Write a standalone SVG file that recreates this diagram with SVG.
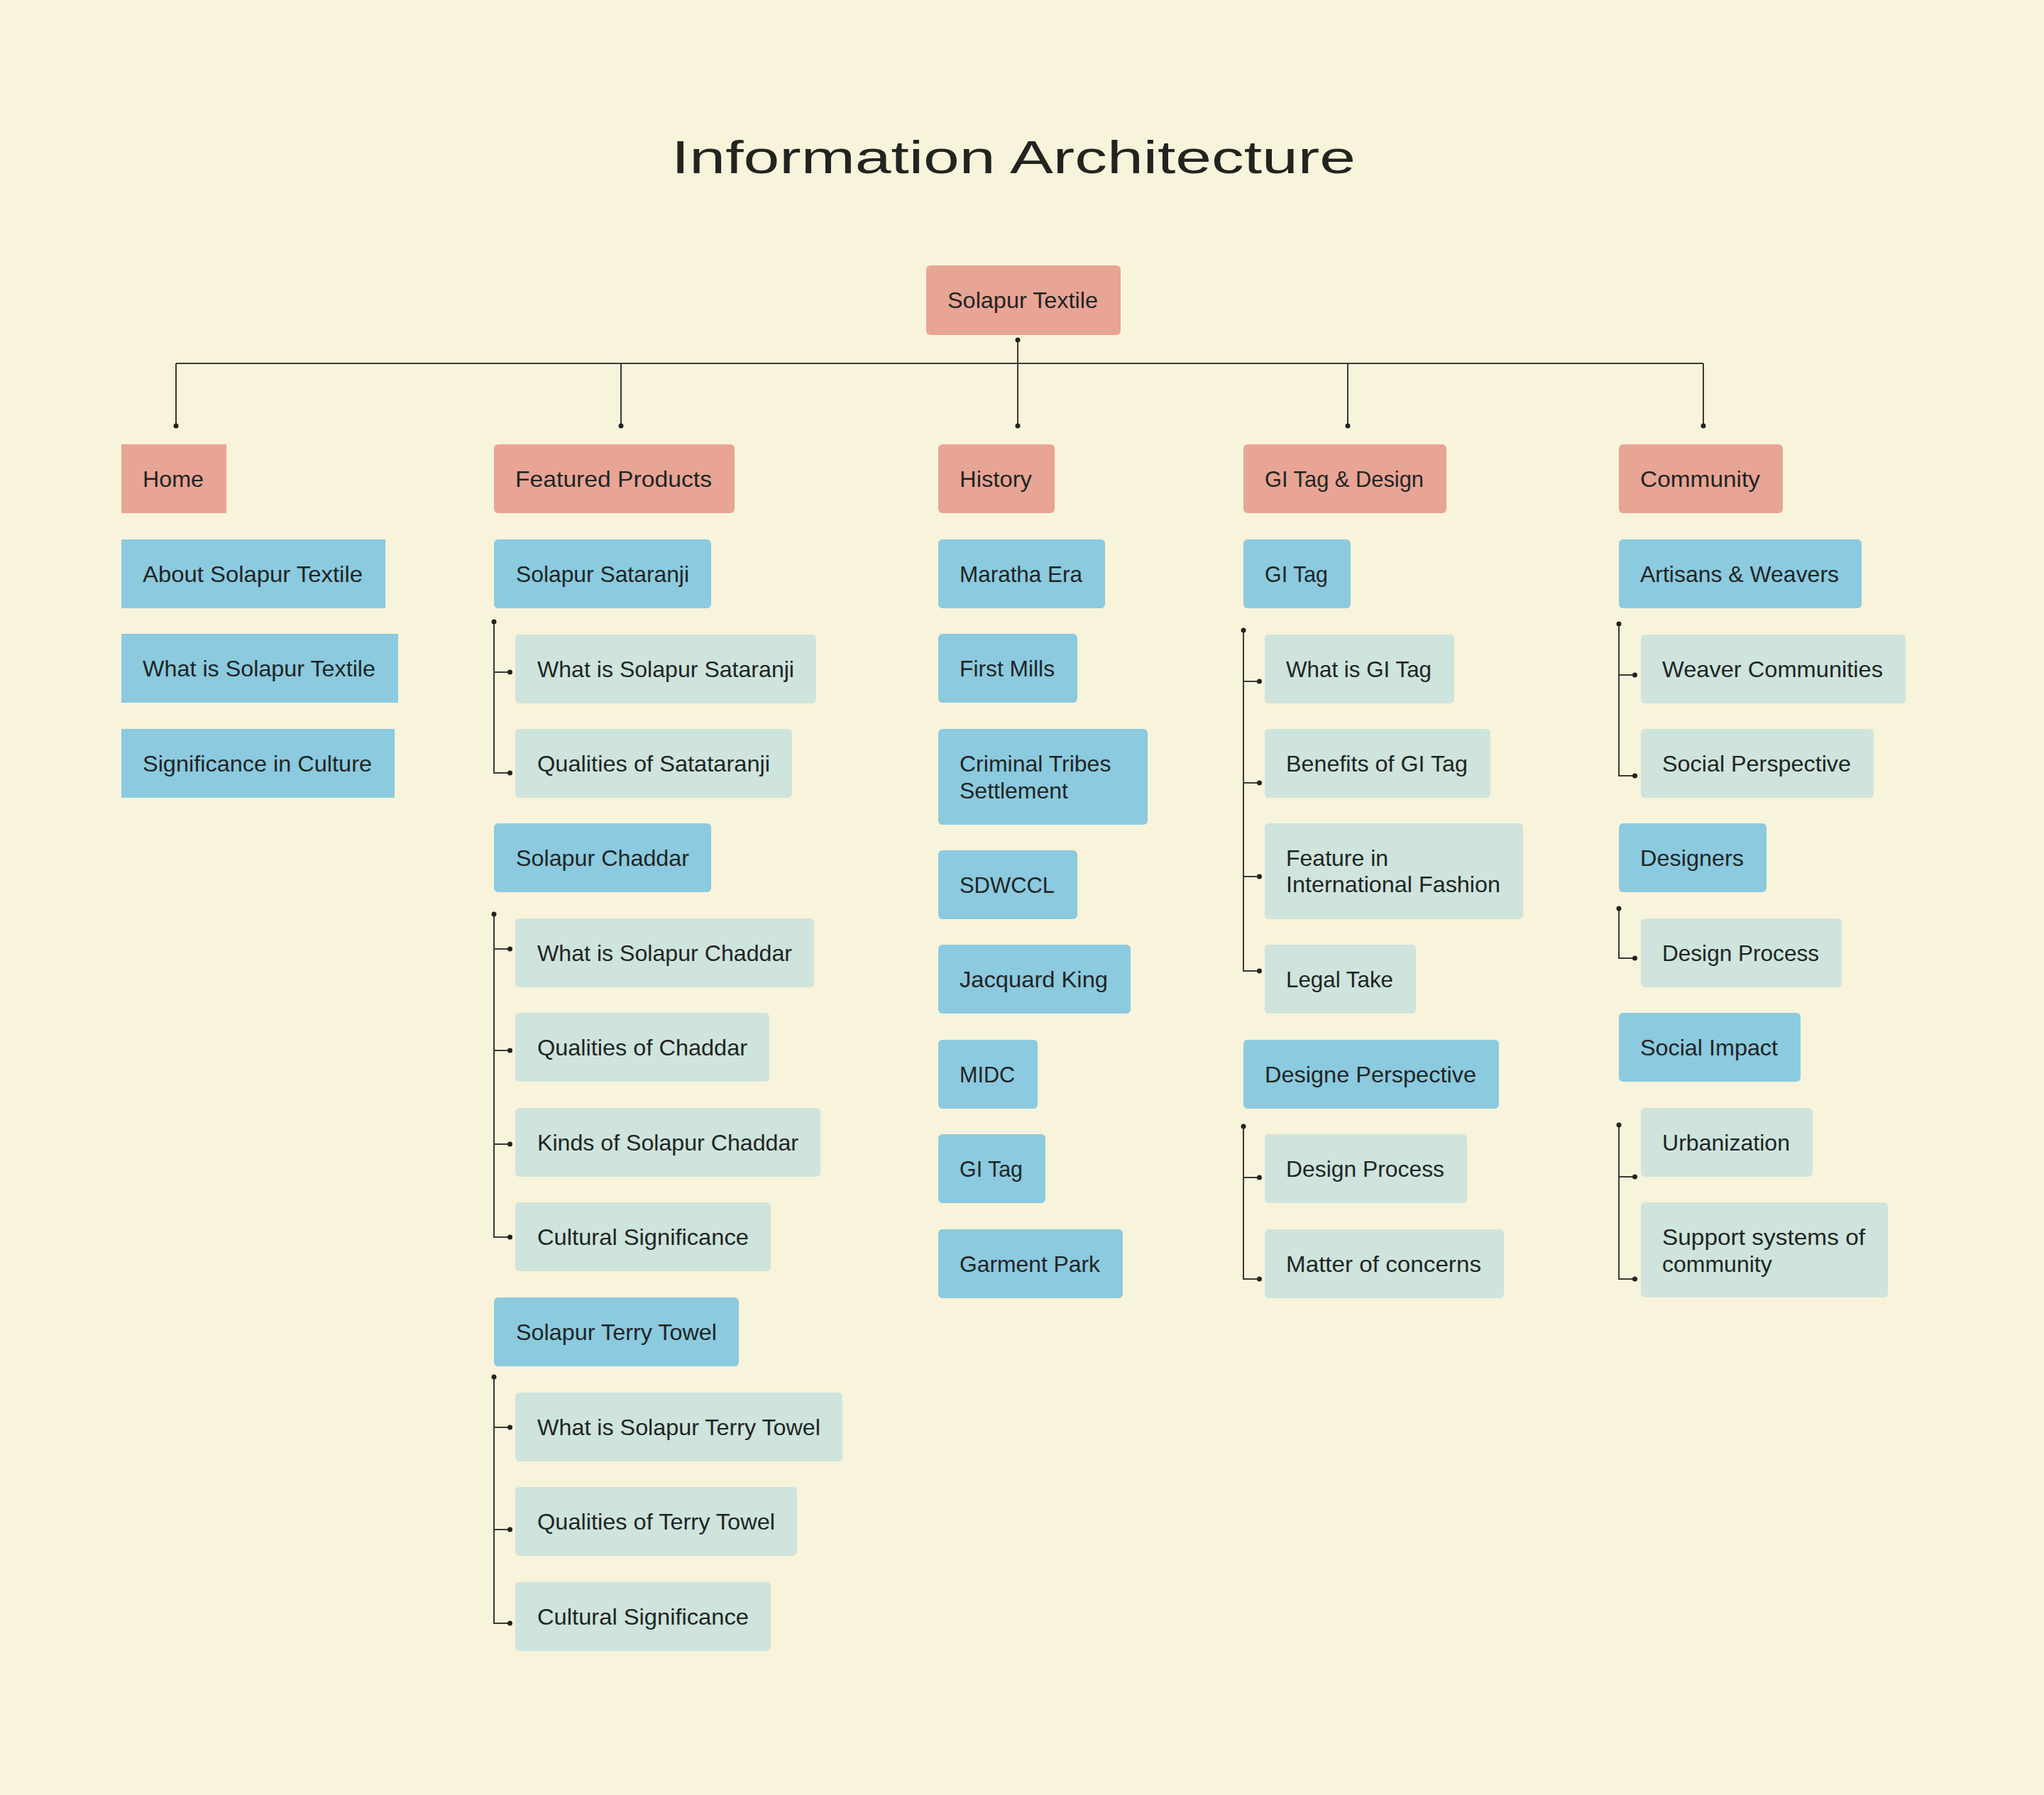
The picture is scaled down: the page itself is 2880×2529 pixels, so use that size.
<svg xmlns="http://www.w3.org/2000/svg" width="2880" height="2529" viewBox="0 0 2880 2529">
<defs>
<style>
.bg{fill:#F8F3DB}
.n1{fill:#E8A494}
.n2{fill:#8BCADF}
.n3{fill:#CEE4DC}
.t{font-family:"Liberation Sans",Arial,sans-serif;font-size:32px;fill:#1F2524}
.title{font-family:"Liberation Sans",Arial,sans-serif;font-size:64px;fill:#23231F}
.ln{fill:none;stroke:#3A3A35;stroke-width:2}
.dot{fill:#23231F}
</style>
</defs>
<rect class="bg" x="0" y="0" width="2880" height="2529"/>
<text class="title" x="1428" y="244" text-anchor="middle" textLength="964" lengthAdjust="spacingAndGlyphs">Information Architecture</text>

<g id="connectors">
<path class="ln" d="M1434,479 V512 M248,512 H2400 M248,512 V600 M875,512 V600 M1434,512 V600 M1899,512 V600 M2400,512 V600"/>
<circle class="dot" cx="1434" cy="479" r="3.5"/>
<circle class="dot" cx="248" cy="600" r="3.5"/>
<circle class="dot" cx="875" cy="600" r="3.5"/>
<circle class="dot" cx="1434" cy="600" r="3.5"/>
<circle class="dot" cx="1899" cy="600" r="3.5"/>
<circle class="dot" cx="2400" cy="600" r="3.5"/>

<path class="ln" d="M696,876 V1089 H718.5 M696,947 H718.5"/>
<circle class="dot" cx="696" cy="876" r="3.5"/>
<circle class="dot" cx="718.5" cy="947" r="3.5"/>
<circle class="dot" cx="718.5" cy="1089" r="3.5"/>

<path class="ln" d="M696,1288 V1743 H718.5 M696,1337 H718.5 M696,1480 H718.5 M696,1612 H718.5"/>
<circle class="dot" cx="696" cy="1288" r="3.5"/>
<circle class="dot" cx="718.5" cy="1337" r="3.5"/>
<circle class="dot" cx="718.5" cy="1480" r="3.5"/>
<circle class="dot" cx="718.5" cy="1612" r="3.5"/>
<circle class="dot" cx="718.5" cy="1743" r="3.5"/>

<path class="ln" d="M696,1940 V2287 H718.5 M696,2011 H718.5 M696,2155 H718.5"/>
<circle class="dot" cx="696" cy="1940" r="3.5"/>
<circle class="dot" cx="718.5" cy="2011" r="3.5"/>
<circle class="dot" cx="718.5" cy="2155" r="3.5"/>
<circle class="dot" cx="718.5" cy="2287" r="3.5"/>

<path class="ln" d="M1752,888 V1368 H1774.5 M1752,960 H1774.5 M1752,1103 H1774.5 M1752,1235 H1774.5"/>
<circle class="dot" cx="1752" cy="888" r="3.5"/>
<circle class="dot" cx="1774.5" cy="960" r="3.5"/>
<circle class="dot" cx="1774.5" cy="1103" r="3.5"/>
<circle class="dot" cx="1774.5" cy="1235" r="3.5"/>
<circle class="dot" cx="1774.5" cy="1368" r="3.5"/>

<path class="ln" d="M1752,1587 V1802 H1774.5 M1752,1659 H1774.5"/>
<circle class="dot" cx="1752" cy="1587" r="3.5"/>
<circle class="dot" cx="1774.5" cy="1659" r="3.5"/>
<circle class="dot" cx="1774.5" cy="1802" r="3.5"/>

<path class="ln" d="M2281,879 V1093 H2303.5 M2281,951 H2303.5"/>
<circle class="dot" cx="2281" cy="879" r="3.5"/>
<circle class="dot" cx="2303.5" cy="951" r="3.5"/>
<circle class="dot" cx="2303.5" cy="1093" r="3.5"/>

<path class="ln" d="M2281,1280 V1350 H2303.5"/>
<circle class="dot" cx="2281" cy="1280" r="3.5"/>
<circle class="dot" cx="2303.5" cy="1350" r="3.5"/>

<path class="ln" d="M2281,1585 V1802 H2303.5 M2281,1658 H2303.5"/>
<circle class="dot" cx="2281" cy="1585" r="3.5"/>
<circle class="dot" cx="2303.5" cy="1658" r="3.5"/>
<circle class="dot" cx="2303.5" cy="1802" r="3.5"/>
</g>

<g id="root"><rect class="n1" x="1305" y="374" width="274" height="98" rx="6"/><text class="t" x="1335" y="434" textLength="212" lengthAdjust="spacingAndGlyphs">Solapur Textile</text></g>

<g id="home"><rect class="n1" x="171" y="626" width="148" height="97"/><text class="t" x="201" y="686" textLength="86" lengthAdjust="spacingAndGlyphs">Home</text></g>
<g id="about"><rect class="n2" x="171" y="760" width="372" height="97"/><text class="t" x="201" y="820" textLength="310" lengthAdjust="spacingAndGlyphs">About Solapur Textile</text></g>
<g id="whatis-textile"><rect class="n2" x="171" y="893" width="390" height="97"/><text class="t" x="201" y="953" textLength="328" lengthAdjust="spacingAndGlyphs">What is Solapur Textile</text></g>
<g id="significance"><rect class="n2" x="171" y="1027" width="385" height="97"/><text class="t" x="201" y="1087" textLength="323" lengthAdjust="spacingAndGlyphs">Significance in Culture</text></g>

<g id="featured"><rect class="n1" x="696" y="626" width="339" height="97" rx="6"/><text class="t" x="726" y="686" textLength="277" lengthAdjust="spacingAndGlyphs">Featured Products</text></g>
<g id="sataranji"><rect class="n2" x="696" y="760" width="306" height="97" rx="6"/><text class="t" x="727" y="820" textLength="244" lengthAdjust="spacingAndGlyphs">Solapur Sataranji</text></g>
<g id="sataranji-what"><rect class="n3" x="726" y="894" width="424" height="97" rx="6"/><text class="t" x="757" y="954" textLength="362" lengthAdjust="spacingAndGlyphs">What is Solapur Sataranji</text></g>
<g id="sataranji-qual"><rect class="n3" x="726" y="1027" width="390" height="97" rx="6"/><text class="t" x="757" y="1087" textLength="328" lengthAdjust="spacingAndGlyphs">Qualities of Satataranji</text></g>
<g id="chaddar"><rect class="n2" x="696" y="1160" width="306" height="97" rx="6"/><text class="t" x="727" y="1220" textLength="244" lengthAdjust="spacingAndGlyphs">Solapur Chaddar</text></g>
<g id="chaddar-what"><rect class="n3" x="726" y="1294" width="421" height="97" rx="6"/><text class="t" x="757" y="1354" textLength="359" lengthAdjust="spacingAndGlyphs">What is Solapur Chaddar</text></g>
<g id="chaddar-qual"><rect class="n3" x="726" y="1427" width="358" height="97" rx="6"/><text class="t" x="757" y="1487" textLength="296" lengthAdjust="spacingAndGlyphs">Qualities of Chaddar</text></g>
<g id="chaddar-kinds"><rect class="n3" x="726" y="1561" width="430" height="97" rx="6"/><text class="t" x="757" y="1621" textLength="368" lengthAdjust="spacingAndGlyphs">Kinds of Solapur Chaddar</text></g>
<g id="chaddar-cult"><rect class="n3" x="726" y="1694" width="360" height="97" rx="6"/><text class="t" x="757" y="1754" textLength="298" lengthAdjust="spacingAndGlyphs">Cultural Significance</text></g>
<g id="terry"><rect class="n2" x="696" y="1828" width="345" height="97" rx="6"/><text class="t" x="727" y="1888" textLength="283" lengthAdjust="spacingAndGlyphs">Solapur Terry Towel</text></g>
<g id="terry-what"><rect class="n3" x="726" y="1962" width="461" height="97" rx="6"/><text class="t" x="757" y="2022" textLength="399" lengthAdjust="spacingAndGlyphs">What is Solapur Terry Towel</text></g>
<g id="terry-qual"><rect class="n3" x="726" y="2095" width="397" height="97" rx="6"/><text class="t" x="757" y="2155" textLength="335" lengthAdjust="spacingAndGlyphs">Qualities of Terry Towel</text></g>
<g id="terry-cult"><rect class="n3" x="726" y="2229" width="360" height="97" rx="6"/><text class="t" x="757" y="2289" textLength="298" lengthAdjust="spacingAndGlyphs">Cultural Significance</text></g>

<g id="history"><rect class="n1" x="1322" y="626" width="164" height="97" rx="6"/><text class="t" x="1352" y="686" textLength="102" lengthAdjust="spacingAndGlyphs">History</text></g>
<g id="maratha"><rect class="n2" x="1322" y="760" width="235" height="97" rx="6"/><text class="t" x="1352" y="820" textLength="173" lengthAdjust="spacingAndGlyphs">Maratha Era</text></g>
<g id="mills"><rect class="n2" x="1322" y="893" width="196" height="97" rx="6"/><text class="t" x="1352" y="953" textLength="134" lengthAdjust="spacingAndGlyphs">First Mills</text></g>
<g id="criminal"><rect class="n2" x="1322" y="1027" width="295" height="135" rx="6"/><text class="t" x="1352" y="1087">Criminal Tribes</text><text class="t" x="1352" y="1125">Settlement</text></g>
<g id="sdwccl"><rect class="n2" x="1322" y="1198" width="196" height="97" rx="6"/><text class="t" x="1352" y="1258" textLength="134" lengthAdjust="spacingAndGlyphs">SDWCCL</text></g>
<g id="jacquard"><rect class="n2" x="1322" y="1331" width="271" height="97" rx="6"/><text class="t" x="1352" y="1391" textLength="209" lengthAdjust="spacingAndGlyphs">Jacquard King</text></g>
<g id="midc"><rect class="n2" x="1322" y="1465" width="140" height="97" rx="6"/><text class="t" x="1352" y="1525" textLength="78" lengthAdjust="spacingAndGlyphs">MIDC</text></g>
<g id="history-gi"><rect class="n2" x="1322" y="1598" width="151" height="97" rx="6"/><text class="t" x="1352" y="1658" textLength="89" lengthAdjust="spacingAndGlyphs">GI Tag</text></g>
<g id="garment"><rect class="n2" x="1322" y="1732" width="260" height="97" rx="6"/><text class="t" x="1352" y="1792" textLength="198" lengthAdjust="spacingAndGlyphs">Garment Park</text></g>

<g id="gitag-design"><rect class="n1" x="1752" y="626" width="286" height="97" rx="6"/><text class="t" x="1782" y="686" textLength="224" lengthAdjust="spacingAndGlyphs">GI Tag &amp; Design</text></g>
<g id="gitag"><rect class="n2" x="1752" y="760" width="151" height="97" rx="6"/><text class="t" x="1782" y="820" textLength="89" lengthAdjust="spacingAndGlyphs">GI Tag</text></g>
<g id="gitag-what"><rect class="n3" x="1782" y="894" width="267" height="97" rx="6"/><text class="t" x="1812" y="954" textLength="205" lengthAdjust="spacingAndGlyphs">What is GI Tag</text></g>
<g id="gitag-benefits"><rect class="n3" x="1782" y="1027" width="318" height="97" rx="6"/><text class="t" x="1812" y="1087" textLength="256" lengthAdjust="spacingAndGlyphs">Benefits of GI Tag</text></g>
<g id="gitag-feature"><rect class="n3" x="1782" y="1160" width="364" height="135" rx="6"/><text class="t" x="1812" y="1220">Feature in</text><text class="t" x="1812" y="1257" textLength="302" lengthAdjust="spacingAndGlyphs">International Fashion</text></g>
<g id="gitag-legal"><rect class="n3" x="1782" y="1331" width="213" height="97" rx="6"/><text class="t" x="1812" y="1391" textLength="151" lengthAdjust="spacingAndGlyphs">Legal Take</text></g>
<g id="designe"><rect class="n2" x="1752" y="1465" width="360" height="97" rx="6"/><text class="t" x="1782" y="1525" textLength="298" lengthAdjust="spacingAndGlyphs">Designe Perspective</text></g>
<g id="designe-process"><rect class="n3" x="1782" y="1598" width="285" height="97" rx="6"/><text class="t" x="1812" y="1658" textLength="223" lengthAdjust="spacingAndGlyphs">Design Process</text></g>
<g id="designe-matter"><rect class="n3" x="1782" y="1732" width="337" height="97" rx="6"/><text class="t" x="1812" y="1792" textLength="275" lengthAdjust="spacingAndGlyphs">Matter of concerns</text></g>

<g id="community"><rect class="n1" x="2281" y="626" width="231" height="97" rx="6"/><text class="t" x="2311" y="686" textLength="169" lengthAdjust="spacingAndGlyphs">Community</text></g>
<g id="artisans"><rect class="n2" x="2281" y="760" width="342" height="97" rx="6"/><text class="t" x="2311" y="820" textLength="280" lengthAdjust="spacingAndGlyphs">Artisans &amp; Weavers</text></g>
<g id="weaver"><rect class="n3" x="2312" y="894" width="373" height="97" rx="6"/><text class="t" x="2342" y="954" textLength="311" lengthAdjust="spacingAndGlyphs">Weaver Communities</text></g>
<g id="social-persp"><rect class="n3" x="2312" y="1027" width="328" height="97" rx="6"/><text class="t" x="2342" y="1087" textLength="266" lengthAdjust="spacingAndGlyphs">Social Perspective</text></g>
<g id="designers"><rect class="n2" x="2281" y="1160" width="208" height="97" rx="6"/><text class="t" x="2311" y="1220" textLength="146" lengthAdjust="spacingAndGlyphs">Designers</text></g>
<g id="designers-process"><rect class="n3" x="2312" y="1294" width="283" height="97" rx="6"/><text class="t" x="2342" y="1354" textLength="221" lengthAdjust="spacingAndGlyphs">Design Process</text></g>
<g id="social-impact"><rect class="n2" x="2281" y="1427" width="256" height="97" rx="6"/><text class="t" x="2311" y="1487" textLength="194" lengthAdjust="spacingAndGlyphs">Social Impact</text></g>
<g id="urbanization"><rect class="n3" x="2312" y="1561" width="242" height="97" rx="6"/><text class="t" x="2342" y="1621" textLength="180" lengthAdjust="spacingAndGlyphs">Urbanization</text></g>
<g id="support"><rect class="n3" x="2312" y="1694" width="348" height="134" rx="6"/><text class="t" x="2342" y="1754" textLength="286" lengthAdjust="spacingAndGlyphs">Support systems of</text><text class="t" x="2342" y="1792">community</text></g>
</svg>
